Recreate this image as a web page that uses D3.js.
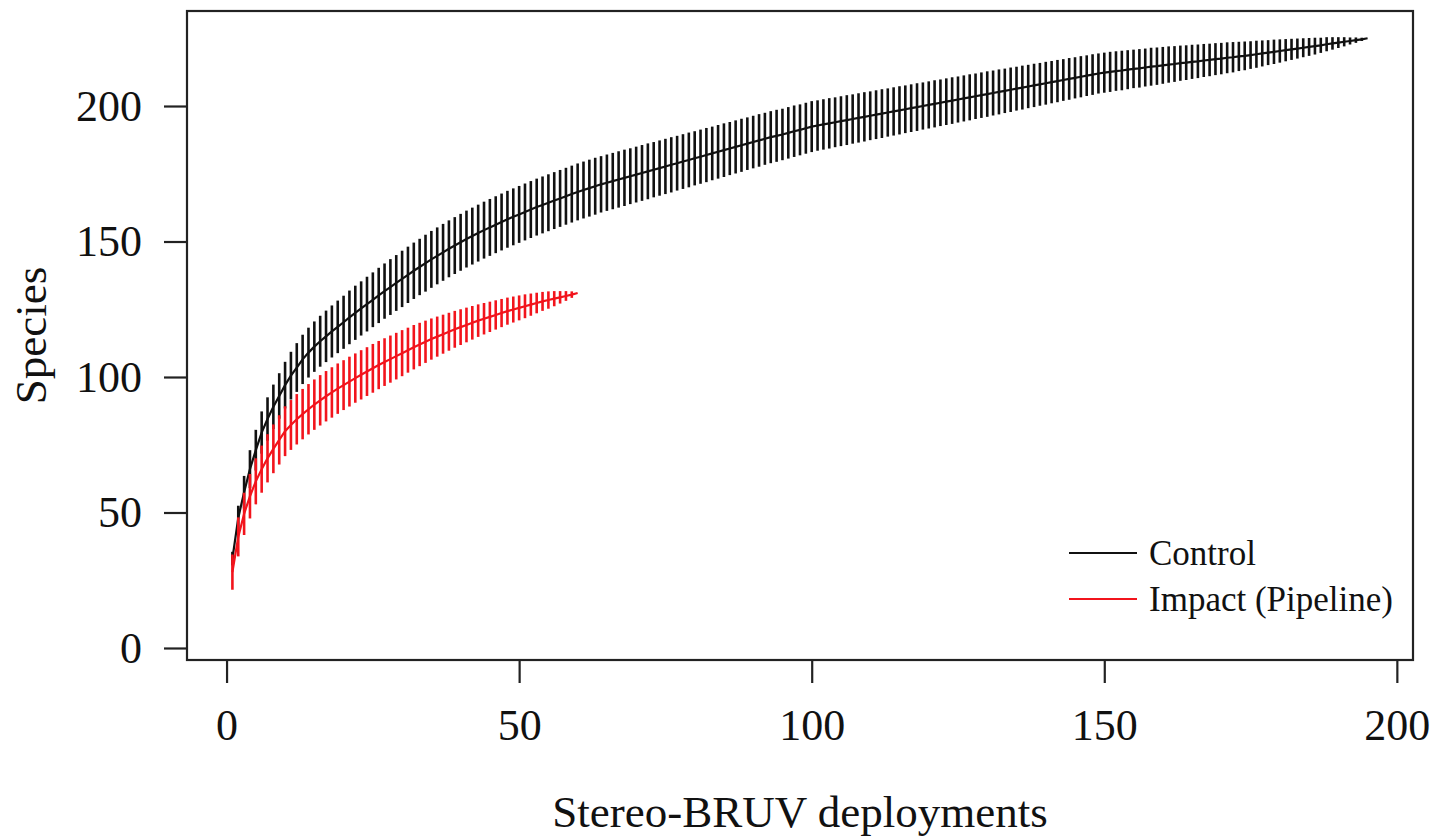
<!DOCTYPE html>
<html>
<head>
<meta charset="utf-8">
<script src="https://cdn.jsdelivr.net/npm/d3@7"></script>
<style>
  body { margin: 0; background: #fff; }
  svg { display: block; font-family: "Liberation Serif", "Times New Roman", serif; }
</style>
</head>
<body>
<div id="chart"></div>
<script>
// Species accumulation: mean and error-bar half-width per deployment
var controlMean = [
  33, 48, 57.5, 66, 73, 79.5, 84.5, 89, 93, 97,
  100.5, 103.5, 106.5, 109, 111.2, 113.2, 115, 116.8, 118.5, 120.2,
  122, 123.7, 125.3, 126.9, 128.5, 130.1, 131.7, 133.2, 134.7, 136.2,
  137.7, 139.2, 140.6, 142, 143.4, 144.7, 146, 147.3, 148.5, 149.7,
  150.9, 152, 153.1, 154.2, 155.2, 156.2, 157.2, 158.2, 159.1, 160,
  160.9, 161.8, 162.7, 163.5, 164.3, 165.1, 165.9, 166.7, 167.5, 168.3,
  169, 169.7, 170.4, 171.1, 171.7, 172.3, 172.9, 173.5, 174.1, 174.7,
  175.3, 175.9, 176.5, 177.1, 177.7, 178.3, 178.9, 179.5, 180.1, 180.7,
  181.3, 181.9, 182.5, 183.1, 183.7, 184.3, 184.9, 185.5, 186.1, 186.7,
  187.3, 187.9, 188.5, 189, 189.5, 190.1, 190.7, 191.2, 191.8, 192.4,
  192.8, 193.2, 193.6, 194, 194.4, 194.8, 195.2, 195.6, 196, 196.4,
  196.8, 197.2, 197.6, 198, 198.4, 198.8, 199.2, 199.6, 200, 200.4,
  200.8, 201.2, 201.6, 202, 202.4, 202.8, 203.2, 203.6, 204, 204.4,
  204.8, 205.2, 205.6, 206, 206.4, 206.8, 207.2, 207.6, 208, 208.4,
  208.8, 209.2, 209.6, 210, 210.4, 210.8, 211.2, 211.6, 212, 212.3,
  212.6, 212.9, 213.1, 213.4, 213.7, 213.9, 214.2, 214.5, 214.7, 215,
  215.3, 215.5, 215.8, 216, 216.3, 216.5, 216.8, 217, 217.3, 217.5,
  217.8, 218, 218.3, 218.5, 218.8, 219.1, 219.4, 219.7, 220, 220.3,
  220.6, 220.9, 221.2, 221.5, 221.8, 222.1, 222.4, 222.8, 223.1, 223.4,
  223.7, 224, 224.3, 224.6, 225
];
var controlCI = [
  2.5, 4.5, 6, 7, 7.5, 7.8, 8, 8.2, 8.4, 8.6,
  8.8, 9, 9.1, 9.2, 9.3, 9.4, 9.5, 9.6, 9.7, 9.8,
  9.9, 10, 10, 10.1, 10.1, 10.2, 10.2, 10.3, 10.3, 10.4,
  10.4, 10.4, 10.4, 10.5, 10.5, 10.5, 10.5, 10.5, 10.5, 10.5,
  10.5, 10.5, 10.5, 10.5, 10.5, 10.5, 10.5, 10.5, 10.5, 10.5,
  10.5, 10.5, 10.5, 10.5, 10.5, 10.5, 10.5, 10.5, 10.5, 10.5,
  10.5, 10.5, 10.5, 10.4, 10.4, 10.4, 10.4, 10.4, 10.3, 10.3,
  10.3, 10.3, 10.2, 10.2, 10.2, 10.2, 10.1, 10.1, 10.1, 10,
  10, 10, 9.9, 9.9, 9.9, 9.8, 9.8, 9.8, 9.7, 9.7,
  9.7, 9.6, 9.6, 9.6, 9.5, 9.5, 9.5, 9.4, 9.4, 9.4,
  9.3, 9.3, 9.3, 9.2, 9.2, 9.2, 9.1, 9.1, 9.1, 9,
  9, 9, 8.9, 8.9, 8.9, 8.8, 8.8, 8.8, 8.7, 8.7,
  8.7, 8.6, 8.6, 8.6, 8.5, 8.5, 8.5, 8.4, 8.4, 8.4,
  8.3, 8.3, 8.2, 8.2, 8.1, 8.1, 8, 8, 7.9, 7.9,
  7.8, 7.8, 7.7, 7.7, 7.6, 7.6, 7.5, 7.5, 7.4, 7.4,
  7.4, 7.3, 7.3, 7.2, 7.1, 7.1, 7, 7, 6.9, 6.8,
  6.7, 6.6, 6.5, 6.4, 6.3, 6.2, 6.1, 6, 5.9, 5.8,
  5.7, 5.6, 5.4, 5.3, 5.1, 5, 4.8, 4.6, 4.5, 4.3,
  4.1, 3.9, 3.7, 3.5, 3.3, 3.1, 2.8, 2.6, 2.3, 2,
  1.7, 1.3, 1, 0.6, 0
];
var impactMean = [
  28, 41, 49.5, 56, 61.5, 66, 70, 73.5, 76.8, 80,
  82.3, 84.4, 86.3, 88.1, 89.8, 91.4, 92.9, 94.3, 95.7, 97,
  98.3, 99.6, 100.8, 102, 103.2, 104.4, 105.5, 106.6, 107.7, 108.8,
  109.9, 111, 112, 113, 114, 114.9, 115.8, 116.7, 117.6, 118.4,
  119.2, 120, 120.8, 121.5, 122.2, 122.9, 123.6, 124.3, 124.9, 125.5,
  126.1, 126.7, 127.3, 127.9, 128.4, 128.9, 129.4, 129.9, 130.4, 131
];
var impactCI = [
  6.5, 7.2, 7.8, 8.2, 8.5, 8.7, 8.9, 9, 9.1, 9.2,
  9.2, 9.3, 9.3, 9.3, 9.3, 9.3, 9.3, 9.3, 9.3, 9.2,
  9.2, 9.1, 9.1, 9, 9, 8.9, 8.8, 8.7, 8.6, 8.5,
  8.3, 8.2, 8, 7.8, 7.6, 7.4, 7.2, 7, 6.8, 6.6,
  6.4, 6.2, 6, 5.8, 5.6, 5.4, 5.2, 5, 4.8, 4.6,
  4.4, 4.1, 3.8, 3.5, 3.2, 2.8, 2.3, 1.8, 1.2, 0
];
var seriesNames = ['Control', 'Impact (Pipeline)'];
var seriesColors = ['#111111', '#f2141c'];
var xTicks = [0, 50, 100, 150, 200];
var yTicks = [0, 50, 100, 150, 200];

var W = 1445, H = 840;
var box = {left: 187, right: 1413, top: 11, bottom: 660};

var x = d3.scaleLinear().domain([-6.76, 202.76]).range([box.left, box.right]);
var y = d3.scaleLinear().domain([-4.43, 235.06]).range([box.bottom, box.top]);

var svg = d3.select('#chart').append('svg')
    .attr('width', W)
    .attr('height', H);

function toPoints(means, cis) {
  return means.map(function (m, i) {
    return {n: i + 1, mean: m, ci: cis[i]};
  });
}

var series = [
  {name: seriesNames[0], color: seriesColors[0], values: toPoints(controlMean, controlCI)},
  {name: seriesNames[1], color: seriesColors[1], values: toPoints(impactMean, impactCI)}
];

var line = d3.line()
    .x(function (d) { return x(d.n); })
    .y(function (d) { return y(d.mean); });

var groups = svg.selectAll('.series')
    .data(series)
    .enter().append('g')
    .attr('class', 'series');

// error bars
groups.selectAll('.bar')
    .data(function (d) { return d.values.map(function (v) { v.color = d.color; return v; }); })
    .enter().append('line')
    .attr('class', 'bar')
    .attr('x1', function (d) { return x(d.n); })
    .attr('x2', function (d) { return x(d.n); })
    .attr('y1', function (d) { return y(d.mean - d.ci); })
    .attr('y2', function (d) { return y(d.mean + d.ci); })
    .attr('stroke', function (d) { return d.color; })
    .attr('stroke-width', 2.6);

// mean curve
groups.append('path')
    .attr('d', function (d) { return line(d.values); })
    .attr('fill', 'none')
    .attr('stroke', function (d) { return d.color; })
    .attr('stroke-width', 2.2);

// frame
svg.append('rect')
    .attr('x', box.left)
    .attr('y', box.top)
    .attr('width', box.right - box.left)
    .attr('height', box.bottom - box.top)
    .attr('fill', 'none')
    .attr('stroke', '#222')
    .attr('stroke-width', 2.2);

// axes
var xAxis = d3.axisBottom(x).tickValues(xTicks).tickSize(23).tickPadding(26);
var yAxis = d3.axisLeft(y).tickValues(yTicks).tickSize(23).tickPadding(22);

var gx = svg.append('g')
    .attr('transform', 'translate(0,' + box.bottom + ')')
    .call(xAxis);
var gy = svg.append('g')
    .attr('transform', 'translate(' + box.left + ',0)')
    .call(yAxis);

[gx, gy].forEach(function (g) {
  g.select('.domain').remove();
  g.selectAll('.tick line').attr('stroke', '#222').attr('stroke-width', 2.2);
  g.selectAll('.tick text')
    .attr('fill', '#111')
    .style('font-family', '"Liberation Serif", "Times New Roman", serif')
    .style('font-size', '44px');
});

// axis titles
svg.append('text')
    .attr('x', (box.left + box.right) / 2)
    .attr('y', 827)
    .attr('text-anchor', 'middle')
    .attr('fill', '#111')
    .style('font-size', '45px')
    .text('Stereo-BRUV deployments');

svg.append('text')
    .attr('transform', 'translate(46,' + ((box.top + box.bottom) / 2) + ') rotate(-90)')
    .attr('text-anchor', 'middle')
    .attr('fill', '#111')
    .style('font-size', '45px')
    .text('Species');

// legend
var legend = svg.append('g')
    .attr('transform', 'translate(1069,553)');

var item = legend.selectAll('.item')
    .data(series)
    .enter().append('g')
    .attr('class', 'item')
    .attr('transform', function (d, i) { return 'translate(0,' + (i * 46) + ')'; });

item.append('line')
    .attr('x1', 0)
    .attr('x2', 68)
    .attr('stroke', function (d) { return d.color; })
    .attr('stroke-width', 2.2);

item.append('text')
    .attr('x', 80)
    .attr('dy', '0.33em')
    .attr('fill', '#111')
    .style('font-size', '35px')
    .text(function (d) { return d.name; });
</script>
</body>
</html>
